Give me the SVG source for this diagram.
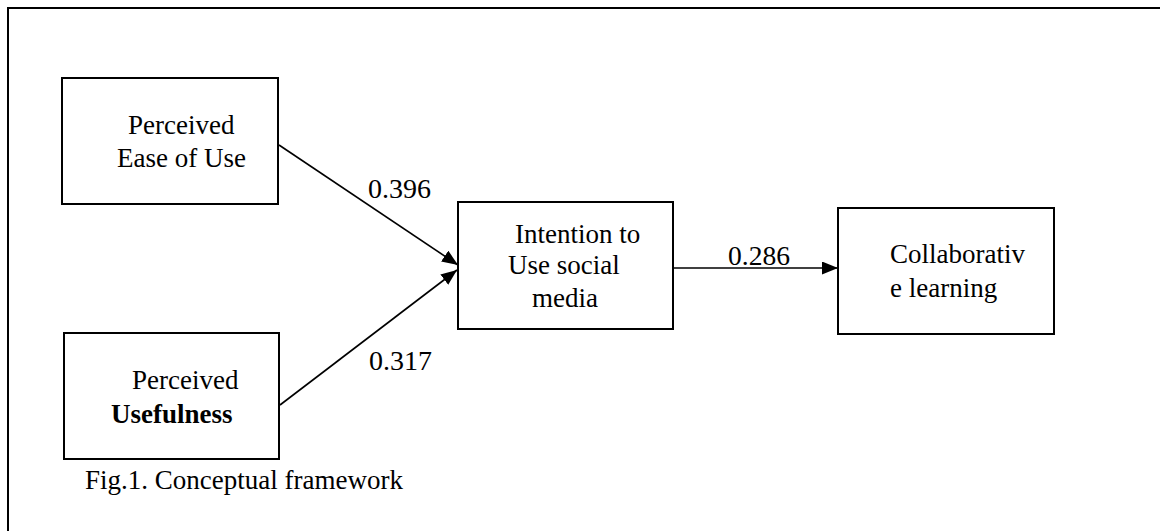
<svg xmlns="http://www.w3.org/2000/svg" width="1160" height="531" viewBox="0 0 1160 531">
<style>
.box{fill:#fff;stroke:#000;stroke-width:2}
.t{font-family:"Liberation Serif","Times New Roman",serif;font-size:27px;fill:#000}
.lbl{font-family:"Liberation Serif","Times New Roman",serif;font-size:27px;fill:#000}
.edge{stroke:#000;stroke-width:1.6;fill:none}
</style>
<defs>
<marker id="arr" markerUnits="userSpaceOnUse" markerWidth="16" markerHeight="13" refX="16" refY="6.5" orient="auto">
<path d="M0,0 L16,6.5 L0,13 z" fill="#000"/>
</marker>
</defs>
<rect x="0" y="0" width="1160" height="531" fill="#fff"/>
<path d="M8,531 V8 H1160" fill="none" stroke="#000" stroke-width="2"/>
<g id="connectors">
<line class="edge" x1="279" y1="145" x2="458" y2="265" marker-end="url(#arr)"/>
<line class="edge" x1="280" y1="405" x2="457" y2="270" marker-end="url(#arr)"/>
<line class="edge" x1="673" y1="268" x2="838" y2="268" marker-end="url(#arr)"/>
<text class="lbl" x="368" y="198" textLength="63" lengthAdjust="spacingAndGlyphs">0.396</text>
<text class="lbl" x="369" y="370" textLength="63" lengthAdjust="spacingAndGlyphs">0.317</text>
<text class="lbl" x="728" y="265" textLength="62" lengthAdjust="spacingAndGlyphs">0.286</text>
</g>
<g id="node-peou">
<rect class="box" x="62" y="78" width="216" height="126"/>
<text class="t" x="128" y="134">Perceived</text>
<text class="t" x="117" y="167">Ease of Use</text>
</g>
<g id="node-pu">
<rect class="box" x="64" y="333" width="215" height="126"/>
<text class="t" x="132" y="389">Perceived</text>
<text class="t" x="111" y="423" font-weight="bold">Usefulness</text>
</g>
<g id="node-intention">
<rect class="box" x="458" y="202" width="215" height="127"/>
<text class="t" x="515" y="243">Intention to</text>
<text class="t" x="508" y="274">Use social</text>
<text class="t" x="532" y="307">media</text>
</g>
<g id="node-collab">
<rect class="box" x="838" y="208" width="216" height="126"/>
<text class="t" x="890" y="263">Collaborativ</text>
<text class="t" x="890" y="297">e learning</text>
</g>
<text class="t" x="85" y="489">Fig.1. Conceptual framework</text>
</svg>
